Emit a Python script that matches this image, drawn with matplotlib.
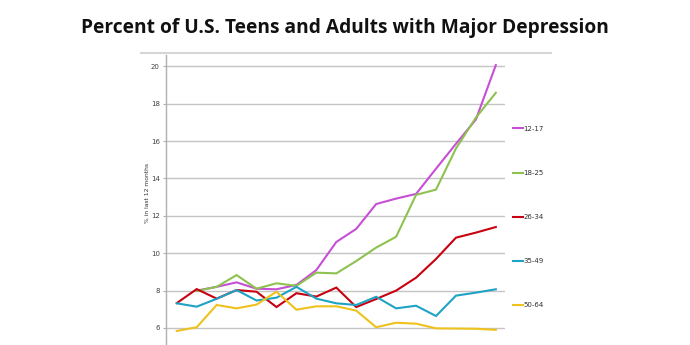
import numpy as np
import matplotlib
matplotlib.use("Agg")
import matplotlib.pyplot as plt
from matplotlib.lines import Line2D

nan = np.nan

# one point per survey year (x axis labels are cut off in the source)
years = list(range(17))
age_groups = ["12-17", "18-25", "26-34", "35-49", "50-64"]
teens_12_17 = [nan, 8.0, 8.2, 8.44, 8.1, 8.07, 8.3, 9.1, 10.6, 11.3, 12.63, 12.92, 13.17, 14.52, 15.85, 17.15, 20.06]
adults_18_25 = [nan, 7.98, 8.2, 8.83, 8.1, 8.39, 8.25, 8.96, 8.92, 9.58, 10.3, 10.88, 13.12, 13.4, 15.6, 17.25, 18.58]
adults_26_34 = [7.33, 8.08, 7.57, 8.03, 7.94, 7.12, 7.86, 7.68, 8.16, 7.12, 7.55, 8.0, 8.69, 9.69, 10.83, 11.1, 11.4]
adults_35_49 = [7.32, 7.14, 7.56, 8.03, 7.47, 7.62, 8.2, 7.57, 7.32, 7.23, 7.67, 7.05, 7.19, 6.64, 7.73, 7.89, 8.07]
adults_50_64 = [5.84, 6.04, 7.23, 7.05, 7.25, 7.94, 6.98, 7.16, 7.16, 6.93, 6.04, 6.28, 6.23, 5.98, 5.97, 5.96, 5.9]
y_ticks = [6, 8, 10, 12, 14, 16, 18, 20]

series = [teens_12_17, adults_18_25, adults_26_34, adults_35_49, adults_50_64]
colors = ["#C64FD6", "#8DC24F", "#C8000F", "#1EA3C4", "#EEC21C"]

fig = plt.figure(figsize=(6.9, 3.45), dpi=100)
fig.patch.set_facecolor("white")

# title
fig.text(0.5, 0.918, "Percent of U.S. Teens and Adults with Major Depression",
         ha="center", va="center", fontsize=13.8, fontweight="bold",
         family="Open Sans", color="#111111")

# thin frame line at the top of the chart box
fig.add_artist(Line2D([141 / 690, 551 / 690], [1 - 53 / 345, 1 - 53 / 345],
                      color="#D6D6D6", lw=1.5))

ax = fig.add_axes([166 / 690, 0.0, 339 / 690, 290 / 345])
ax.set_xlim(-0.54, 16.46)
ax.set_ylim(5.09, 20.6)

for vals, col, lab in zip(series, colors, age_groups):
    ax.plot(years, vals, color=col, lw=1.5, label=lab, solid_joinstyle="miter")

ax.set_yticks(y_ticks)
ax.set_yticklabels([str(t) for t in y_ticks], fontsize=5, color="#404040")
ax.tick_params(axis="y", length=2.5, width=0.8, color="#B0B0B0", pad=2)
ax.set_xticks([])
ax.grid(axis="y", color="#C4C4C4", lw=1.0)
ax.set_axisbelow(True)
for side in ["top", "right", "bottom"]:
    ax.spines[side].set_visible(False)
ax.spines["left"].set_color("#B0B0B0")
ax.spines["left"].set_linewidth(1.0)

ax.set_ylabel("% in last 12 months", fontsize=4.3, color="#303030")
ax.yaxis.set_label_coords(-0.047, 0.524)

leg = ax.legend(loc="upper left", bbox_to_anchor=(1.015, 0.765), frameon=False,
                fontsize=5, handlelength=1.45, handletextpad=0.1,
                labelspacing=5.48, borderaxespad=0)
for t in leg.get_texts():
    t.set_color("#303030")

fig.savefig("out.png", dpi=100)
